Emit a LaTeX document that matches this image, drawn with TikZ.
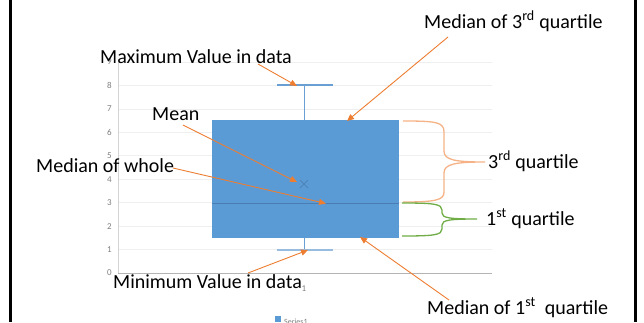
\documentclass[tikz,border=0pt]{standalone}
\usepackage{fontspec}
\setmainfont{Carlito}
\usetikzlibrary{arrows.meta}
\definecolor{boxblue}{HTML}{5B9BD5}
\definecolor{medblue}{HTML}{4A7EB3}
\definecolor{whisker}{HTML}{6A9FD3}
\definecolor{callout}{HTML}{ED7D31}
\definecolor{bracepeach}{HTML}{F5B286}
\definecolor{bracegreen}{HTML}{70AD47}
\definecolor{gridgray}{HTML}{EFEFEF}
\definecolor{axisgray}{HTML}{D4D4D4}
\definecolor{ticktext}{HTML}{7F7F7F}
\tikzset{
  label text/.style={inner sep=0pt, anchor=base west, font=\fontsize{20}{24}\selectfont},
  tick text/.style={inner sep=0pt, text=ticktext, font=\fontsize{9}{10}\selectfont},
  callout arrow/.style={draw=callout, line width=0.9pt, -{Triangle[length=7pt,width=6pt]}},
  framebar/.style={line width=3pt, black}
}
\begin{document}
\begin{tikzpicture}[x=1pt,y=-1pt]
\useasboundingbox (0,0) rectangle (644,322);
% side bars of the frame
\draw[framebar] (10,0) -- (10,322);
\draw[framebar] (635,0) -- (635,322);

% grid and axes (1 unit = 23.44pt, zero at y=273)
\foreach \v in {1,...,9}
  \draw[gridgray, line width=0.8pt] (118,273-23.44*\v) -- (492,273-23.44*\v);
\draw[axisgray, line width=1pt] (118,62) -- (118,273);
\draw[axisgray!85!black, line width=0.8pt] (118,273) -- (492,273);
\foreach \v in {0,...,9}
  \node[tick text, anchor=east] (ytick\v) at (112,273-23.44*\v) {\v};
\node[tick text] (xtick) at (304,289) {1};

% box and whiskers
\draw[whisker, line width=0.9pt] (304,85) -- (304,120);
\draw[whisker, line width=0.9pt] (304,238) -- (304,250);
\draw[whisker, line width=1.2pt] (277,85) -- (333,85);
\draw[whisker!70!white, line width=1.4pt] (277,250) -- (333,250);
\fill[boxblue] (212,120) rectangle (399,238);
\draw[medblue, line width=1pt] (212,203) -- (399,203);
\draw[medblue!80!boxblue, line width=1pt] (300,180) -- (308,188) (300,188) -- (308,180);

% legend
\fill[boxblue] (275,316) rectangle (281,322);
\node[tick text, anchor=base west, font=\fontsize{8}{9}\selectfont] (legend) at (284,324) {Series1};

% labels
\node[label text] (maxlbl) at (100,63) {Maximum Value in data};
\node[label text] (meanlbl) at (152,120) {Mean};
\node[label text] (medwhole) at (36,172) {Median of whole};
\node[label text] (minlbl) at (113,288) {Minimum Value in data};
\node[label text] (med3) at (424,28) {Median of 3\textsuperscript{rd} quartile};
\node[label text] (q3lbl) at (488,168) {3\textsuperscript{rd} quartile};
\node[label text] (q1lbl) at (486,225) {1\textsuperscript{st} quartile};
\node[label text] (med1) at (427,314) {Median of 1\textsuperscript{st}\ \ quartile};

% arrow ends
\coordinate (maxtail) at (258,64);  \coordinate (maxtip) at (297,86);
\coordinate (meantail) at (183,125); \coordinate (meantip) at (297,182);
\coordinate (wholetail) at (173,168); \coordinate (wholetip) at (326,203.5);
\coordinate (mintail) at (248,273); \coordinate (mintip) at (308,250);
\coordinate (med3tail) at (448,37); \coordinate (med3tip) at (347,121);
\coordinate (med1tail) at (449,300); \coordinate (med1tip) at (360,237);

\draw[callout arrow] (maxtail) -- (maxtip);
\draw[callout arrow] (meantail) -- (meantip);
\draw[callout arrow] (wholetail) -- (wholetip);
\draw[callout arrow] (mintail) -- (mintip);
\draw[callout arrow] (med3tail) -- (med3tip);
\draw[callout arrow] (med1tail) -- (med1tip);

% braces
\draw[bracepeach, line width=1.3pt]
  (403,121) .. controls (436,121) and (444,122) .. (444,132) -- (444,151)
  .. controls (444,160) and (455,162) .. (485,162)
  .. controls (455,162) and (444,164) .. (444,173) -- (444,192)
  .. controls (444,200) and (436,202) .. (403,202);
\draw[bracegreen, line width=1.3pt]
  (402,203) .. controls (434,203) and (442,204) .. (442,210) -- (442,213)
  .. controls (442,218) and (450,219) .. (477,219)
  .. controls (450,219) and (442,220) .. (442,225) -- (442,229)
  .. controls (442,235) and (434,236) .. (402,236);
\end{tikzpicture}
\end{document}
